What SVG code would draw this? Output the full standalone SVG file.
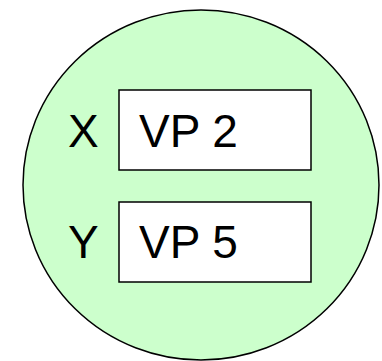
<svg xmlns="http://www.w3.org/2000/svg" width="382" height="361" viewBox="0 0 382 361">
<style>
.t{font-family:"Liberation Sans",Arial,sans-serif;font-size:46px;fill:#000}
.b{fill:#fff;stroke:#000;stroke-width:1.5}
</style>
<g id="circle"><ellipse cx="201" cy="185" rx="178" ry="175" fill="#ccffcc" stroke="#000" stroke-width="1.5"/></g>
<g id="nodeX">
<text class="t" x="68" y="147">X</text>
<rect class="b" x="119" y="90" width="192" height="80"/>
<text class="t" x="139" y="147">VP 2</text>
</g>
<g id="nodeY">
<text class="t" x="68" y="258">Y</text>
<rect class="b" x="119" y="202" width="192" height="80"/>
<text class="t" x="139" y="258">VP 5</text>
</g>
<g id="connectors"/>
</svg>
